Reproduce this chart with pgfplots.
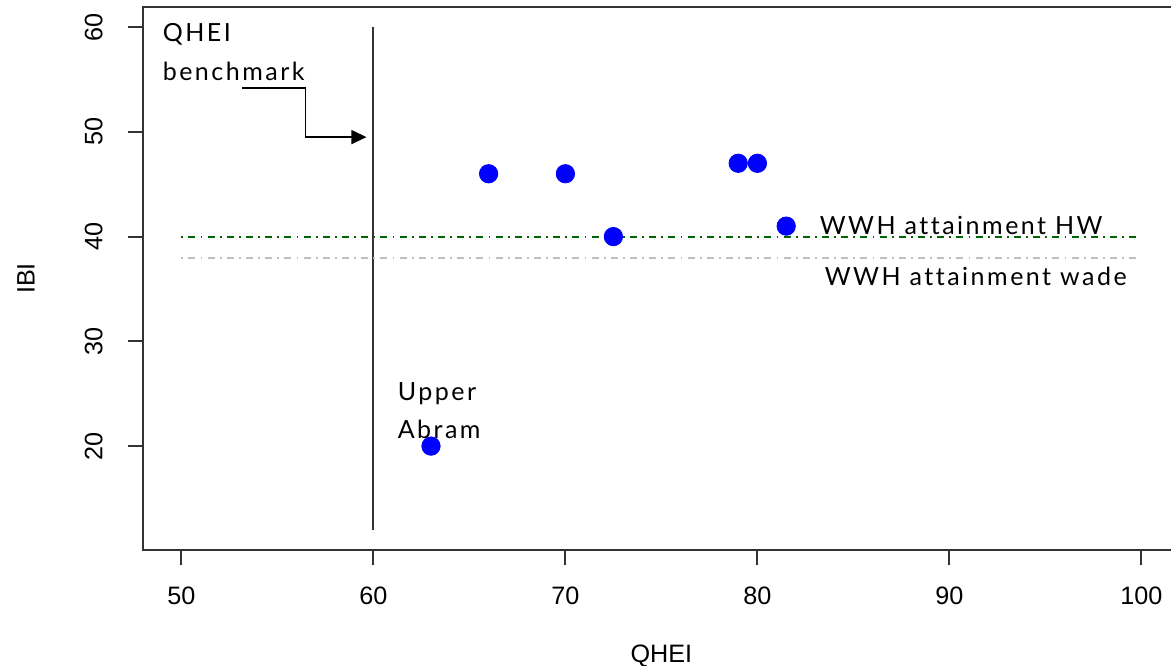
\documentclass[border=0pt]{standalone}
\usepackage{fontspec}
\setmainfont{Liberation Sans}
\newfontfamily\annfont[LetterSpace=10,Ligatures=NoCommon]{Lato}
\usepackage{pgfplots}
\pgfplotsset{compat=1.18}
\usetikzlibrary{arrows.meta}
\definecolor{rgreen}{RGB}{0,100,0}
\definecolor{rgray}{RGB}{190,190,190}
\begin{document}
\begin{tikzpicture}
\begin{axis}[
  at={(0,0)}, anchor=south west,
  scale only axis, width=518.4pt, height=271.5pt,
  xmin=48, xmax=102, ymin=10.08, ymax=61.92,
  xtick={50,60,...,100}, ytick={20,30,...,60},
  xtick pos=bottom, ytick pos=left,
  tick align=outside, major tick length=7.5pt,
  axis line style={black!80, line width=1pt},
  every tick/.style={black!80, line width=1pt},
  /pgf/number format/assume math mode=true,
  ticklabel style={font=\fontsize{12.6}{14}\selectfont, inner sep=0pt},
  xticklabel style={anchor=north, yshift=-10.5pt},
  yticklabel style={xshift=-12.5pt, rotate=90, anchor=south},
  xlabel={QHEI}, ylabel={IBI},
  xlabel style={font=\fontsize{12.6}{14}\selectfont, at={(axis description cs:0.5,0)}, anchor=north, inner sep=0pt, yshift=-47pt},
  ylabel style={font=\fontsize{12.6}{14}\selectfont, at={([xshift=-54pt]axis description cs:0,0.5)}, anchor=south, inner sep=0pt},
]
\addplot[black!80, line width=1pt] coordinates {(60,12) (60,60)};
\addplot[rgreen, line width=1pt, dash pattern=on 0.9pt off 2.6pt on 3.5pt off 2.6pt] coordinates {(50,40) (100,40)};
\addplot[rgray, line width=1pt, dash pattern=on 0.9pt off 2.6pt on 3.5pt off 2.6pt] coordinates {(50,38) (100,38)};
\addplot[black, line width=0.6pt, -{Triangle[length=7.5pt,width=7pt]}] coordinates {(53.18,54.18) (56.46,54.18) (56.46,49.5) (59.64,49.5)};
\addplot[only marks, mark=*, mark size=4.6pt, color=blue] coordinates {
(66,46) (70,46) (72.5,40) (79,47) (80,47) (81.5,41) (63,20)};
\node[anchor=base west, inner sep=0pt, font=\annfont\fontsize{12.5}{14}\selectfont] at (axis cs:49.01,58.66) {QHEI};
\node[anchor=base west, inner sep=0pt, font=\annfont\fontsize{12.5}{14}\selectfont] at (axis cs:49.01,54.94) {benchmark};
\node[anchor=base west, inner sep=0pt, font=\annfont\fontsize{12.5}{14}\selectfont] at (axis cs:83.23,40.24) {WWH attainment HW};
\node[anchor=base west, inner sep=0pt, font=\annfont\fontsize{12.5}{14}\selectfont] at (axis cs:83.49,35.37) {WWH attainment wade};
\node[anchor=base west, inner sep=0pt, font=\annfont\fontsize{12.5}{14}\selectfont] at (axis cs:61.25,24.39) {Upper};
\node[anchor=base west, inner sep=0pt, font=\annfont\fontsize{12.5}{14}\selectfont] at (axis cs:61.25,20.76) {Abram};
\end{axis}
\pgfresetboundingbox
\useasboundingbox (-71.5pt,-57.5pt) rectangle (514pt,275pt);
\end{tikzpicture}
\end{document}
